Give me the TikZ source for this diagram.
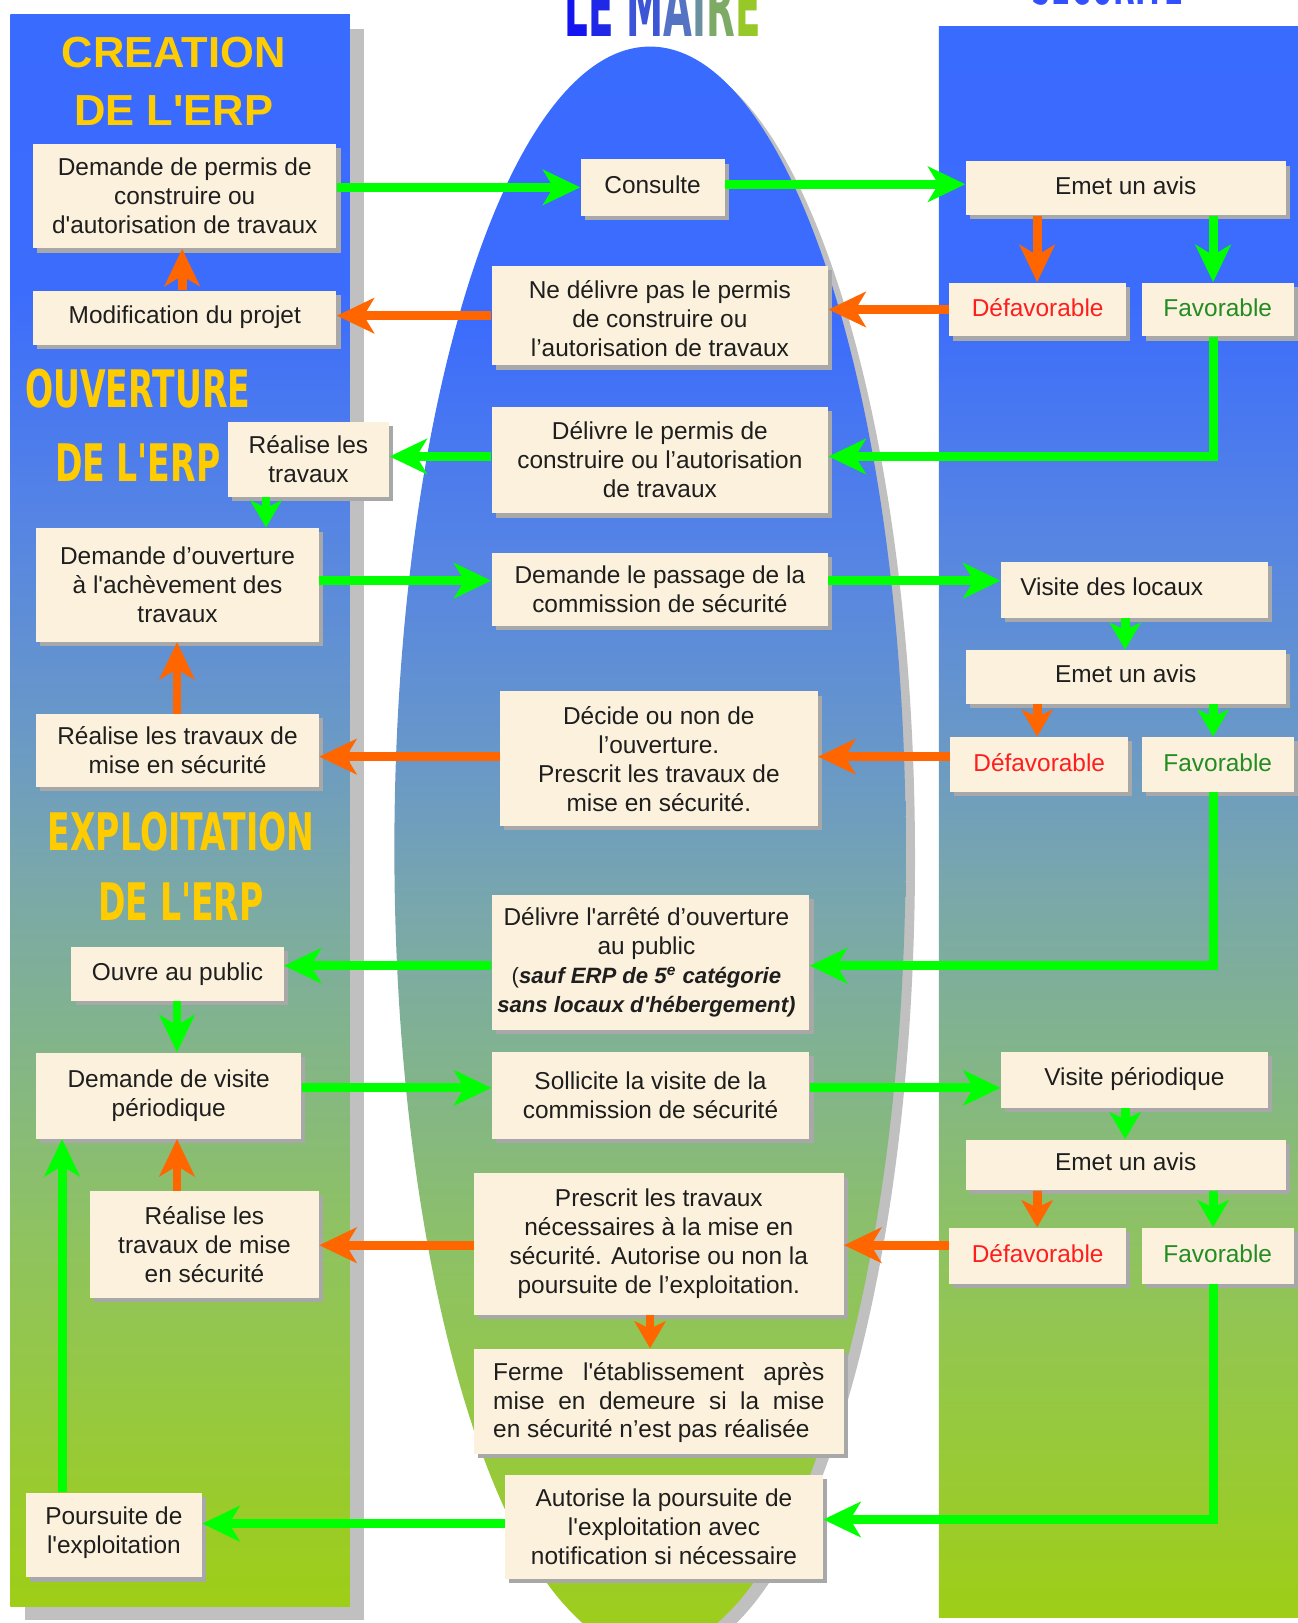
\documentclass[tikz,border=0pt]{standalone}
\usepackage{fontspec}
\setmainfont{Liberation Sans}[Ligatures=TeXOff]
\newfontfamily\condfont{DejaVu Sans}[FakeStretch=0.64]
\newfontfamily\mairefont{DejaVu Sans}[FakeStretch=0.45]
\usetikzlibrary{arrows.meta,shadows,fit}

\definecolor{cream}{RGB}{252,241,220}
\definecolor{boxsh}{RGB}{168,168,168}
\definecolor{pshadow}{RGB}{192,192,192}
\definecolor{gArrow}{RGB}{0,255,0}
\definecolor{oArrow}{RGB}{255,102,0}
\definecolor{headc}{RGB}{255,204,0}
\definecolor{defav}{RGB}{255,30,30}
\definecolor{fav}{RGB}{35,140,35}
\definecolor{txt}{RGB}{30,30,30}
\definecolor{s0}{RGB}{58,107,255}
\definecolor{s1}{RGB}{60,108,252}
\definecolor{s2}{RGB}{85,132,228}
\definecolor{s3}{RGB}{105,152,200}
\definecolor{s4}{RGB}{122,168,170}
\definecolor{s5}{RGB}{130,180,140}
\definecolor{s6}{RGB}{143,195,95}
\definecolor{s7}{RGB}{152,202,55}
\definecolor{s8}{RGB}{158,206,22}
\definecolor{m1}{RGB}{20,20,240}
\definecolor{m2}{RGB}{30,40,230}
\definecolor{m3}{RGB}{60,85,215}
\definecolor{m4}{RGB}{85,115,195}
\definecolor{m5}{RGB}{105,145,160}
\definecolor{m6}{RGB}{125,170,100}
\definecolor{m7}{RGB}{150,200,40}
\definecolor{secblue}{RGB}{50,80,255}

\pgfdeclareverticalshading{panelshade}{100bp}{color(0bp)=(s8); color(25bp)=(s8); color(29.94bp)=(s7); color(36.44bp)=(s6); color(42.95bp)=(s5); color(47.8bp)=(s4); color(52.7bp)=(s3); color(59.2bp)=(s2); color(66.35bp)=(s1); color(75bp)=(s0); color(100bp)=(s0)}

\tikzset{
  box/.style={fill=cream, inner sep=0pt,
    drop shadow={shadow xshift=2pt, shadow yshift=-2pt, opacity=1, fill=boxsh}},
  boxtext/.style={inner sep=0pt, align=center, text=txt,
    font=\fontsize{11.8}{14}\selectfont},
  up/.style={yshift=1.5pt},
  ga/.style={draw=gArrow, line width=4.3pt, -{Stealth[length=18pt,width=17pt,inset=5pt]}},
  oa/.style={draw=oArrow, line width=4.3pt, -{Stealth[length=18pt,width=17pt,inset=5pt]}},
  gs/.style={draw=gArrow, line width=4.3pt, -{Stealth[length=13pt,width=15pt,inset=3.5pt]}},
  os/.style={draw=oArrow, line width=4.3pt, -{Stealth[length=13pt,width=15pt,inset=3.5pt]}},
  headA/.style={text=headc, font=\fontsize{21}{21}\selectfont\bfseries, inner sep=0pt, anchor=base},
  headB/.style={text=headc, font=\condfont\fontsize{25}{25}\selectfont\bfseries, inner sep=0pt, anchor=base}
}
% box with its text: [text options]{name}{corner points}{text}
\newcommand\boxnode[4][]{%
  \node[box, fit={#3}] (#2) {};
  \node[boxtext, #1] (#2t) at (#2.center) {#4};}

\begin{document}
\begin{tikzpicture}[x=0.5pt,y=-0.5pt]
\useasboundingbox (0,0) rectangle (1254,1568);

% titles (cropped at the top)
\node[anchor=base, inner sep=0pt, font=\mairefont\fontsize{40}{40}\selectfont\bfseries] (maire) at (640,35)
  {\textcolor{m1}{L}\textcolor{m2}{E} \textcolor{m3}{M}\textcolor{m4}{A}\textcolor{m5}{I}\textcolor{m6}{R}\textcolor{m7}{E}};
\node[anchor=base, inner sep=0pt, text=secblue, font=\mairefont\fontsize{30}{30}\selectfont\bfseries] (secu) at (1070,4) {SECURITE};

% panels
\fill[pshadow] (24,28) rectangle (352,1565);
\shade[shading=panelshade] (10,14) rectangle (338,1552);
\shade[shading=panelshade] (907,26) rectangle (1262,1563);

% central ellipse
\fill[pshadow] (637,829) ellipse [x radius=123.5pt, y radius=387.5pt];
\shade[shading=panelshade] (628,820) ellipse [x radius=123.5pt, y radius=387.5pt];

% headings
\node[headA] (hc1) at (168,65) {CREATION};
\node[headA] (hc2) at (168,121) {DE L'ERP};
\node[headB] (ho1) at (133,394) {OUVERTURE};
\node[headB] (ho2) at (133,465) {DE L'ERP};
\node[headB] (he1) at (175,822) {EXPLOITATION};
\node[headB] (he2) at (175,889) {DE L'ERP};

% left column
\boxnode{b1}{(32,139)(325,240)}{Demande de permis de\\construire ou\\d'autorisation de travaux}
\boxnode[yshift=0.5pt]{b2}{(32,281)(325,333)}{Modification du projet}
\boxnode{b3}{(220,408)(376,480)}{Réalise les\\travaux}
\boxnode{b4}{(35,510)(308,620)}{Demande d’ouverture\\à l'achèvement des\\travaux}
\boxnode{b5}{(35,690)(308,760)}{Réalise les travaux de\\mise en sécurité}
\boxnode{b6}{(69,915)(274,967)}{Ouvre au public}
\boxnode{b7}{(35,1017)(291,1100)}{Demande de visite\\périodique}
\boxnode{b8}{(87,1151)(308,1254)}{Réalise les\\travaux de mise\\en sécurité}
\boxnode[yshift=1pt]{b9}{(25,1442)(195,1524)}{Poursuite de\\l'exploitation}

% centre column
\boxnode[up]{c1}{(561,154)(700,209)}{Consulte}
\boxnode[yshift=-1.5pt]{c2}{(475,257)(800,353)}{Ne délivre pas le permis\\de construire ou\\l’autorisation de travaux}
\boxnode{c3}{(475,393)(800,496)}{Délivre le permis de\\construire ou l’autorisation\\de travaux}
\boxnode{c4}{(475,534)(800,605)}{Demande le passage de la\\commission de sécurité}
\boxnode{c5}{(483,668)(790,798)}{Décide ou non de\\l’ouverture.\\Prescrit les travaux de\\mise en sécurité.}
\boxnode[xshift=-2pt]{c6}{(475,865)(782,995)}{Délivre l'arrêté d’ouverture\\au public\\{\fontsize{10.7}{14}\selectfont (\bfseries\itshape sauf ERP de 5\textsuperscript{e} catégorie}\\{\fontsize{10.7}{14}\selectfont\bfseries\itshape sans locaux d'hébergement)}}
\boxnode{c7}{(475,1016)(782,1100)}{Sollicite la visite de la\\commission de sécurité}
\boxnode{c8}{(458,1133)(815,1270)}{Prescrit les travaux\\nécessaires à la mise en\\sécurité. Autorise ou non la\\poursuite de l’exploitation.}
\boxnode[text width=160pt, align=justify, yshift=-0.5pt]{c9}{(458,1303)(815,1405)}{Ferme l'établissement après\linebreak mise en demeure si la mise\linebreak en sécurité n’est pas réalisée}
\boxnode{c10}{(488,1425)(795,1525)}{Autorise la poursuite de\\l'exploitation avec\\notification si nécessaire}

% right column
\boxnode[up]{r1}{(933,156)(1242,208)}{Emet un avis}
\boxnode[text=defav, yshift=1pt]{r2}{(917,273)(1088,325)}{Défavorable}
\boxnode[text=fav, yshift=1pt]{r3}{(1103,273)(1250,325)}{Favorable}
\boxnode[up]{r4}{(967,543)(1225,597)}{Visite des locaux\hspace*{22pt}}
\boxnode[up]{r5}{(933,628)(1242,680)}{Emet un avis}
\boxnode[text=defav, yshift=1pt]{r6}{(918,712)(1090,765)}{Défavorable}
\boxnode[text=fav, yshift=1pt]{r7}{(1103,712)(1250,765)}{Favorable}
\boxnode[yshift=0.5pt]{r8}{(967,1016)(1225,1070)}{Visite périodique}
\boxnode[up]{r9}{(933,1101)(1242,1150)}{Emet un avis}
\boxnode[text=defav, yshift=1pt]{r10}{(917,1186)(1088,1240)}{Défavorable}
\boxnode[text=fav, yshift=1pt]{r11}{(1103,1186)(1250,1240)}{Favorable}

% connectors
\draw[ga] (b1.east |- 0,181) -- (c1.west |- 0,181);
\draw[ga] (c1.east |- 0,178) -- (r1.west |- 0,178);
\draw[oa] (r1.south -| 1002,0) -- (r2.north -| 1002,0);
\draw[ga] (r1.south -| 1172,0) -- (r3.north -| 1172,0);
\draw[oa] (r2.west |- 0,299) -- (c2.east |- 0,299);
\draw[oa] (c2.west |- 0,305) -- (b2.east |- 0,305);
\draw[oa] (b2.north -| 176,0) -- (b1.south -| 176,0);
\draw[ga] (r3.south -| 1172,0) |- (c3.east |- 0,441);
\draw[ga] (c3.west |- 0,441) -- (b3.east |- 0,441);
\draw[gs] (b3.south -| 257,0) -- (b4.north -| 257,0);
\draw[ga] (b4.east |- 0,561) -- (c4.west |- 0,561);
\draw[ga] (c4.east |- 0,561) -- (r4.west |- 0,561);
\draw[gs] (r4.south -| 1087,0) -- (r5.north -| 1087,0);
\draw[os] (r5.south -| 1002,0) -- (r6.north -| 1002,0);
\draw[gs] (r5.south -| 1172,0) -- (r7.north -| 1172,0);
\draw[oa] (r6.west |- 0,731) -- (c5.east |- 0,731);
\draw[oa] (c5.west |- 0,731) -- (b5.east |- 0,731);
\draw[oa] (b5.north -| 171,0) -- (b4.south -| 171,0);
\draw[ga] (r7.south -| 1172,0) |- (c6.east |- 0,933);
\draw[ga] (c6.west |- 0,933) -- (b6.east |- 0,933);
\draw[ga] (b6.south -| 171,0) -- (b7.north -| 171,0);
\draw[ga] (b7.east |- 0,1051) -- (c7.west |- 0,1051);
\draw[ga] (c7.east |- 0,1051) -- (r8.west |- 0,1051);
\draw[gs] (r8.south -| 1087,0) -- (r9.north -| 1087,0);
\draw[os] (r9.south -| 1002,0) -- (r10.north -| 1002,0);
\draw[gs] (r9.south -| 1172,0) -- (r11.north -| 1172,0);
\draw[oa] (r10.west |- 0,1203) -- (c8.east |- 0,1203);
\draw[oa] (c8.west |- 0,1203) -- (b8.east |- 0,1203);
\draw[oa] (b8.north -| 171,0) -- (b7.south -| 171,0);
\draw[os] (c8.south -| 628,0) -- (c9.north -| 628,0);
\draw[ga] (r11.south -| 1172,0) |- (c10.east |- 0,1468);
\draw[ga] (c10.west |- 0,1472) -- (b9.east |- 0,1472);
\draw[ga] (b9.north -| 60,0) -- (b7.south -| 60,0);
\end{tikzpicture}
\end{document}
